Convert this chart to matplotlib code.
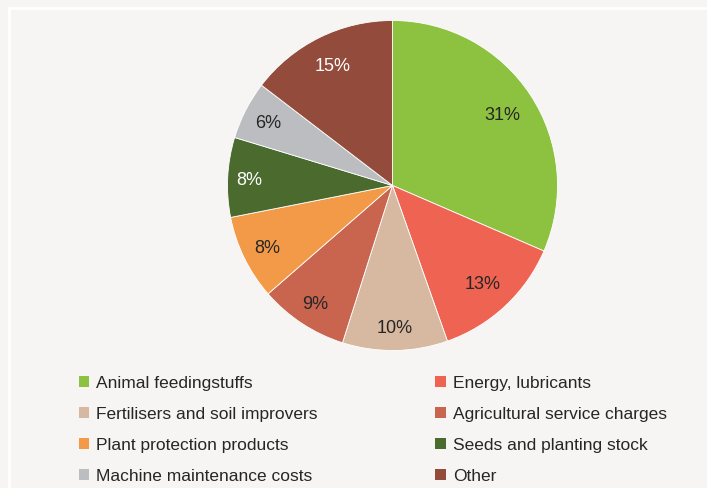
import numpy as np
import matplotlib.pyplot as plt
from matplotlib.lines import Line2D
from matplotlib.patches import Patch

plt.rcParams['font.family'] = ['Liberation Sans', 'DejaVu Sans']

categories = ['Animal feedingstuffs', 'Energy, lubricants',
              'Fertilisers and soil improvers', 'Agricultural service charges',
              'Plant protection products', 'Seeds and planting stock',
              'Machine maintenance costs', 'Other']
# shares; printed labels are the rounded values
shares = [31.5, 13.1, 10.3, 8.7, 8.3, 7.8, 5.7, 14.6]
pct_labels = ['31%', '13%', '10%', '9%', '8%', '8%', '6%', '15%']
colors = ['#8DC240', '#EF6352', '#D6B9A0', '#C9654F',
          '#F39A48', '#4A6A2E', '#BBBDC0', '#934B3C']
label_colors = ['#262626'] * 5 + ['white', '#262626', 'white']
label_dist = [0.80, 0.80, 0.855, 0.85, 0.845, 0.87, 0.846, 0.815]

bg = '#F6F5F3'
txt = '#262626'

fig = plt.figure(figsize=(7.07, 4.88), dpi=100, facecolor=bg)

# frame lines
fig.add_artist(Line2D([8.5 / 707, 1], [1 - 7.5 / 488, 1 - 7.5 / 488],
                      color='white', lw=2))
fig.add_artist(Line2D([8.5 / 707, 8.5 / 707], [0, 1 - 7.5 / 488],
                      color='white', lw=2))

cx, cy, r = 392.5 / 707, 1 - 185.5 / 488, 165
w, h = 2 * r / 707, 2 * r / 488
ax = fig.add_axes([cx - w / 2, cy - h / 2, w, h])
ax.set_facecolor(bg)
wedges, _ = ax.pie(
    shares, colors=colors, startangle=90, counterclock=False,
    wedgeprops=dict(edgecolor='white', linewidth=0.6))
for wdg, lab, lc, d in zip(wedges, pct_labels, label_colors, label_dist):
    ang = np.deg2rad((wdg.theta1 + wdg.theta2) / 2)
    ax.text(d * np.cos(ang), d * np.sin(ang), lab, ha='center',
            va='center_baseline', color=lc, fontsize=13)
ax.set_xlim(-1, 1)
ax.set_ylim(-1, 1)
ax.axis('off')

handles = [Patch(facecolor=c, edgecolor='none') for c in colors]
order = [0, 2, 4, 6, 1, 3, 5, 7]
leg = fig.legend([handles[i] for i in order], [categories[i] for i in order],
                 ncol=2, loc='upper left', bbox_to_anchor=(78.5 / 707, 1 - 376 / 488),
                 frameon=False, fontsize=12.5, handlelength=0.6, handleheight=0.6,
                 handletextpad=0.4, columnspacing=6.8, labelspacing=0.92,
                 borderpad=0, borderaxespad=0)
for t in leg.get_texts():
    t.set_color(txt)

fig.savefig('out.png', dpi=100, facecolor=bg)
